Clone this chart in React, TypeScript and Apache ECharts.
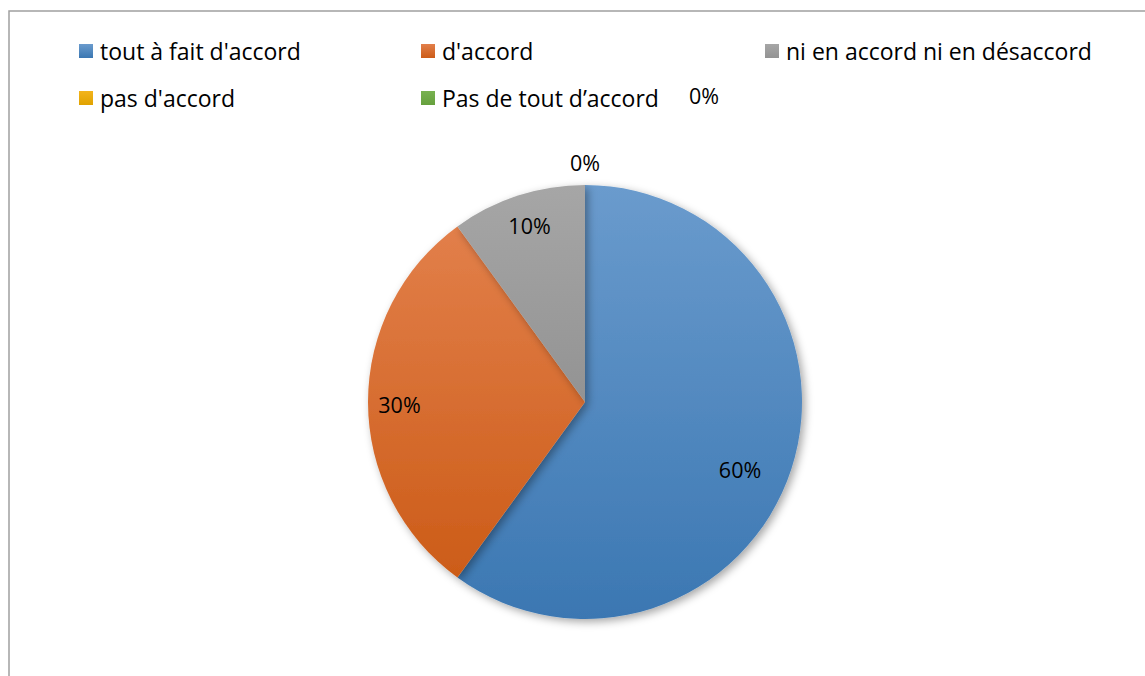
import React, { useEffect, useRef } from "react";
import * as echarts from "echarts";

const categories = [
  "tout à fait d'accord",
  "d'accord",
  "ni en accord ni en désaccord",
  "pas d'accord",
  "Pas de tout d’accord",
];
const values = [60, 30, 10, 0, 0];
const percentLabels = ["60%", "30%", "10%", "0%", "0%"];

const topColors = ["#6a9bcd", "#e27f4a", "#a6a6a6", "#f3b41c", "#78b250"];
const bottomColors = ["#3b77b2", "#cc5c18", "#939393", "#e0a200", "#66a03d"];
const labelOffsets: [number, number][] = [
  [49, 33],
  [-74, 2],
  [-21, -70],
  [0, -128],
  [119, -195],
];
const legendPos: [number, number][] = [
  [79, 37],
  [421, 37],
  [765, 37],
  [79, 84],
  [421, 84],
];

const FONT = "'Open Sans'";

export default function App() {
  const ref = useRef<HTMLDivElement>(null);
  useEffect(() => {
    if (!ref.current) return;
    const chart = echarts.init(ref.current, null, { renderer: "svg" });
    const grad = (i: number) =>
      new echarts.graphic.LinearGradient(0, 0, 0, 1, [
        { offset: 0, color: topColors[i] },
        { offset: 1, color: bottomColors[i] },
      ]);
    chart.setOption({
      animation: false,
      backgroundColor: "#ffffff",
      legend: categories.map((c, i) => ({
        data: [c],
        left: legendPos[i][0],
        top: legendPos[i][1],
        padding: 0,
        icon: "rect",
        itemWidth: 14,
        itemHeight: 14,
        itemGap: 0,
        selectedMode: false,
        textStyle: {
          fontFamily: FONT,
          fontSize: 23,
          color: "#000000",
          lineHeight: 28,
          padding: [0, 0, 0, 2],
        },
      })),
      graphic: [
        {
          type: "rect",
          shape: { x: 9, y: 11, width: 1160, height: 700 },
          style: { fill: "none", stroke: "#a0a0a0", lineWidth: 1.5 },
          silent: true,
        },
      ],
      series: [
        {
          type: "pie",
          center: [585, 402],
          radius: [0, 217],
          startAngle: 90,
          clockwise: true,
          minAngle: 0,
          avoidLabelOverlap: false,
          stillShowZeroSum: true,
          label: {
            show: true,
            position: "inside",
            fontFamily: FONT,
            fontSize: 21.5,
            color: "#000000",
            formatter: (p: any) => percentLabels[p.dataIndex],
          },
          labelLine: { show: false },
          itemStyle: {
            borderWidth: 0,
            shadowBlur: 8,
            shadowOffsetX: 3,
            shadowOffsetY: 3,
            shadowColor: "rgba(0,0,0,0.35)",
          },
          emphasis: { disabled: true },
          data: categories.map((c, i) => ({
            name: c,
            value: values[i],
            itemStyle: { color: grad(i) },
            label: { offset: labelOffsets[i] },
          })),
        },
      ],
    });
    return () => chart.dispose();
  }, []);
  return (
    <div
      ref={ref}
      style={{ position: "fixed", left: 0, top: 0, width: 1145, height: 676 }}
    />
  );
}
